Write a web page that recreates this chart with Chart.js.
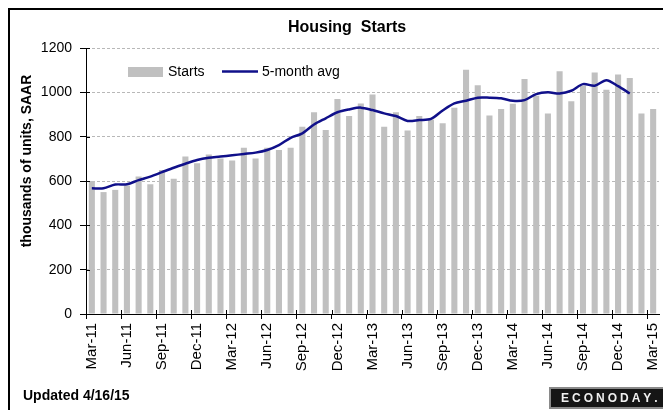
<!DOCTYPE html>
<html>
<head>
<meta charset="utf-8">
<script src="https://cdn.jsdelivr.net/npm/chart.js@4.4.0/dist/chart.umd.min.js"></script>
<style>
  html, body { margin: 0; padding: 0; background: #fff; }
  #wrap { width: 663px; height: 410px; }
</style>
</head>
<body>
<div id="wrap"><canvas id="chart" width="663" height="410"></canvas></div>
<script>
const months = [
  'Mar-11', 'Apr-11', 'May-11', 'Jun-11', 'Jul-11', 'Aug-11', 'Sep-11', 'Oct-11', 'Nov-11', 'Dec-11',
  'Jan-12', 'Feb-12', 'Mar-12', 'Apr-12', 'May-12', 'Jun-12', 'Jul-12', 'Aug-12', 'Sep-12', 'Oct-12',
  'Nov-12', 'Dec-12', 'Jan-13', 'Feb-13', 'Mar-13', 'Apr-13', 'May-13', 'Jun-13', 'Jul-13', 'Aug-13',
  'Sep-13', 'Oct-13', 'Nov-13', 'Dec-13', 'Jan-14', 'Feb-14', 'Mar-14', 'Apr-14', 'May-14', 'Jun-14',
  'Jul-14', 'Aug-14', 'Sep-14', 'Oct-14', 'Nov-14', 'Dec-14', 'Jan-15', 'Feb-15', 'Mar-15'
];

// housing starts, thousands SAAR
const starts = [
  600, 550, 560, 580, 620, 585, 650, 610, 710, 680,
  720, 702, 692, 750, 702, 750, 740, 750, 845, 910,
  830, 970, 893, 950, 990, 845, 910, 828, 893, 877,
  860, 930, 1102, 1032, 895, 925, 948, 1060, 985, 905,
  1095, 960, 1030, 1090, 1012, 1080, 1065, 905, 925
];

// 5-month average (stops at Jan-15)
const avg5 = [
  567, 567, 584, 585, 604, 620, 640, 660, 678, 695,
  705, 710, 716, 722, 728, 740, 762, 795, 815, 855,
  883, 910, 923, 931, 920, 905, 893, 871, 875, 880,
  918, 950, 962, 976, 976, 973, 962, 965, 992, 1000,
  995, 1007, 1037, 1030, 1055, 1028, 995, null, null
];

const yTicks = [0, 200, 400, 600, 800, 1000, 1200];

const BAR_COLOR = '#c0c0c0';
const LINE_COLOR = '#10108a';
const SANS = "'Liberation Sans', Arial, sans-serif";
const NARROW = "'Liberation Sans Narrow', 'Arial Narrow', 'Liberation Sans', Arial, sans-serif";

const decorations = {
  id: 'decorations',
  beforeDraw(chart) {
    const ctx = chart.ctx;
    ctx.save();
    ctx.fillStyle = '#fff';
    ctx.fillRect(0, 0, chart.width, chart.height);
    ctx.restore();
  },
  afterDraw(chart) {
    const ctx = chart.ctx;
    const x = chart.scales.x, y = chart.scales.y;
    ctx.save();

    // outer frame (right and bottom run off the picture)
    ctx.strokeStyle = '#000';
    ctx.lineWidth = 2;
    ctx.strokeRect(9, 9, 720, 440);

    // tick marks crossing the axes
    ctx.lineWidth = 1;
    ctx.beginPath();
    yTicks.forEach(v => {
      const py = Math.round(y.getPixelForValue(v)) + 0.5;
      ctx.moveTo(y.right, py);
      ctx.lineTo(y.right + 4, py);
    });
    for (let i = 0; i < months.length; i += 3) {
      const px = Math.round(x.getPixelForValue(i) - (x.getPixelForValue(1) - x.getPixelForValue(0)) / 2) + 0.5;
      ctx.moveTo(px, x.top);
      ctx.lineTo(px, x.top - 4);
    }
    ctx.stroke();

    // title
    ctx.fillStyle = '#000';
    ctx.textAlign = 'center';
    ctx.textBaseline = 'middle';
    ctx.font = 'bold 16px ' + NARROW;
    ctx.fillText('Housing  Starts', 347, 28);

    // y axis title
    ctx.save();
    ctx.translate(27, 161);
    ctx.rotate(-Math.PI / 2);
    ctx.font = 'bold 14px ' + SANS;
    ctx.fillText('thousands of units, SAAR', 0, 0);
    ctx.restore();

    // legend inside the plot
    ctx.textAlign = 'left';
    ctx.font = '14px ' + SANS;
    ctx.fillStyle = BAR_COLOR;
    ctx.fillRect(128, 67, 35, 10);
    ctx.fillStyle = '#000';
    ctx.fillText(chart.data.datasets[0].label, 168, 72);
    ctx.strokeStyle = LINE_COLOR;
    ctx.lineWidth = 2.5;
    ctx.beginPath();
    ctx.moveTo(222, 71.5);
    ctx.lineTo(258, 71.5);
    ctx.stroke();
    ctx.fillText(chart.data.datasets[1].label, 262, 72);

    // footer
    ctx.font = 'bold 14px ' + NARROW;
    ctx.fillText('Updated 4/16/15', 23, 396);

    // logo
    ctx.fillStyle = '#151515';
    ctx.fillRect(550, 388, 130, 20);
    ctx.strokeStyle = '#8a8a8a';
    ctx.lineWidth = 2;
    ctx.strokeRect(550, 388, 130, 20);
    ctx.fillStyle = '#f0f0f0';
    ctx.font = 'bold 12px ' + SANS;
    const logo = 'ECONODAY.';
    let lx = 561;
    for (const ch of logo) {
      ctx.fillText(ch, lx, 398.5);
      lx += ctx.measureText(ch).width + 3;
    }

    ctx.restore();
  }
};

new Chart(document.getElementById('chart'), {
  type: 'bar',
  data: {
    labels: months,
    datasets: [
      {
        label: 'Starts',
        data: starts,
        backgroundColor: BAR_COLOR,
        borderWidth: 0,
        barPercentage: 0.52,
        categoryPercentage: 1,
        order: 2
      },
      {
        type: 'line',
        label: '5-month avg',
        data: avg5,
        borderColor: LINE_COLOR,
        borderWidth: 2.5,
        pointRadius: 0,
        tension: 0.3,
        fill: false,
        spanGaps: false,
        order: 1
      }
    ]
  },
  options: {
    responsive: false,
    animation: false,
    devicePixelRatio: 1,
    layout: { padding: { top: 48, right: 4, left: 0, bottom: 0 } },
    plugins: {
      legend: { display: false },
      title: { display: false },
      tooltip: { enabled: false }
    },
    scales: {
      x: {
        type: 'category',
        offset: true,
        grid: {
          offset: true,
          drawOnChartArea: false,
          tickLength: 5,
          color: ctx => (ctx.index !== undefined && ctx.index % 3 === 0) ? '#000' : 'rgba(0,0,0,0)'
        },
        border: { color: '#000', width: 1 },
        ticks: {
          autoSkip: false,
          minRotation: 90,
          maxRotation: 90,
          padding: 4,
          color: '#000',
          font: { family: SANS, size: 15 },
          callback: function(val, i) { return i % 3 === 0 ? this.getLabelForValue(val) : ''; }
        },
        afterFit: s => { s.height = 96; s.paddingLeft = 0; s.paddingRight = 0; }
      },
      y: {
        min: 0,
        max: 1200,
        afterBuildTicks: s => { s.ticks = yTicks.map(v => ({ value: v })); },
        grid: {
          color: '#b8b8b8',
          tickColor: '#000',
          tickLength: 6,
          lineWidth: 1
        },
        border: { color: '#000', width: 1, dash: [3, 2] },
        ticks: {
          padding: 8,
          color: '#000',
          font: { family: NARROW, size: 14 },
          callback: v => String(v)
        },
        afterFit: s => { s.width = 86; s.paddingTop = 0; s.paddingBottom = 0; }
      }
    }
  },
  plugins: [decorations]
});
</script>
</body>
</html>
